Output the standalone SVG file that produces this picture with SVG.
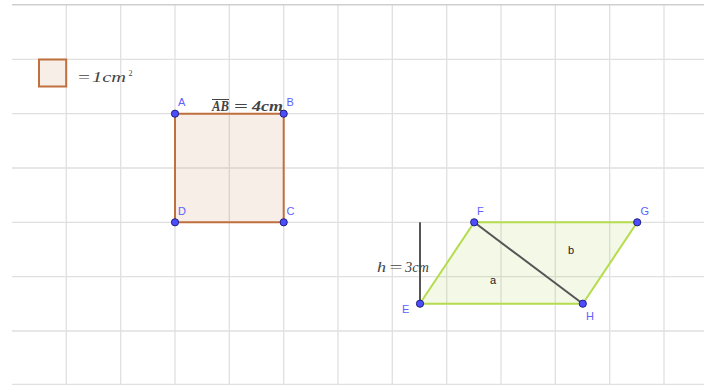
<svg xmlns="http://www.w3.org/2000/svg" width="704" height="385" viewBox="0 0 704 385">
<style>
.grid{stroke:#e0e0e0;stroke-width:1.3;fill:none}
.pt{fill:#4d4dff;stroke:#1f1f7a;stroke-width:1}
.pl{font-family:"Liberation Sans",Arial,sans-serif;font-size:11px;fill:#6060ff}
.math{font-family:"Liberation Serif","Times New Roman",serif;font-style:italic;font-size:14px;fill:#444}
.lab{font-family:"Liberation Sans",Arial,sans-serif;font-size:11px;fill:#222}
</style>
<rect x="0" y="0" width="704" height="385" fill="#fff"/>
<g id="grid">
<path class="grid" d="M66.3 5V385M120.7 5V385M175 5V385M229.3 5V385M283.7 5V385M338 5V385M392.3 5V385M446.7 5V385M501 5V385M555.3 5V385M609.7 5V385M664 5V385"/>
<path class="grid" d="M12 59.3H704M12 113.7H704M12 168H704M12 222.3H704M12 276.7H704M12 331H704M12 384.5H704"/>
<path d="M12 4.7H704" stroke="#cfcfcf" stroke-width="1.5"/>
</g>
<g id="legend">
<rect x="39" y="59.5" width="27.2" height="27" fill="#c0703f" fill-opacity="0.12" stroke="#c0703f" stroke-width="2"/>
<text class="math" y="82"><tspan x="78" font-style="normal" textLength="12" lengthAdjust="spacingAndGlyphs">=</tspan><tspan x="92" textLength="34" lengthAdjust="spacingAndGlyphs">1cm</tspan><tspan x="128.5" y="76" font-size="8" font-style="normal">2</tspan></text>
</g>
<g id="square">
<polygon points="175,113.7 283.7,113.7 283.7,222.3 175,222.3" fill="#c0703f" fill-opacity="0.12" stroke="#c0703f" stroke-width="2"/>
<text class="math" y="111" font-weight="bold" font-size="15"><tspan x="212" textLength="17" lengthAdjust="spacingAndGlyphs">AB</tspan><tspan x="234" font-style="normal" textLength="14" lengthAdjust="spacingAndGlyphs">=</tspan><tspan x="252" textLength="31" lengthAdjust="spacingAndGlyphs">4cm</tspan></text>
<line x1="212" y1="99.5" x2="229" y2="99.5" stroke="#444" stroke-width="1"/>
</g>
<g id="parallelogram">
<polygon points="419.8,303.7 474.2,222.3 637.2,222.3 582.8,303.7" fill="#9acd32" fill-opacity="0.12" stroke="#b4dc4c" stroke-width="2"/>
<text class="lab" x="490" y="284">a</text>
<text class="lab" x="568" y="254">b</text>
</g>
<g id="connectors">
<line x1="474.2" y1="222.3" x2="582.8" y2="303.7" stroke="#555" stroke-width="2"/>
<line x1="420" y1="222.3" x2="420" y2="303.7" stroke="#555" stroke-width="2"/>
</g>
<text id="h-label" class="math" y="271.5"><tspan x="377" textLength="9" lengthAdjust="spacingAndGlyphs">h</tspan><tspan x="389.5" font-style="normal" textLength="13" lengthAdjust="spacingAndGlyphs">=</tspan><tspan x="405" textLength="24" lengthAdjust="spacingAndGlyphs">3cm</tspan></text>
<g id="A"><circle class="pt" cx="175" cy="113.7" r="3.6"/><text class="pl" x="178" y="105.5">A</text></g>
<g id="B"><circle class="pt" cx="283.7" cy="113.7" r="3.6"/><text class="pl" x="286.5" y="105.5">B</text></g>
<g id="C"><circle class="pt" cx="283.7" cy="222.3" r="3.6"/><text class="pl" x="286.5" y="214.5">C</text></g>
<g id="D"><circle class="pt" cx="175" cy="222.3" r="3.6"/><text class="pl" x="178" y="214.5">D</text></g>
<g id="E"><circle class="pt" cx="420" cy="303.7" r="3.6"/><text class="pl" x="402" y="312.5">E</text></g>
<g id="F"><circle class="pt" cx="474.2" cy="222.3" r="3.6"/><text class="pl" x="477" y="214.5">F</text></g>
<g id="G"><circle class="pt" cx="637.2" cy="222.3" r="3.6"/><text class="pl" x="640.5" y="214.5">G</text></g>
<g id="H"><circle class="pt" cx="582.8" cy="303.7" r="3.6"/><text class="pl" x="586" y="319.5">H</text></g>
</svg>
